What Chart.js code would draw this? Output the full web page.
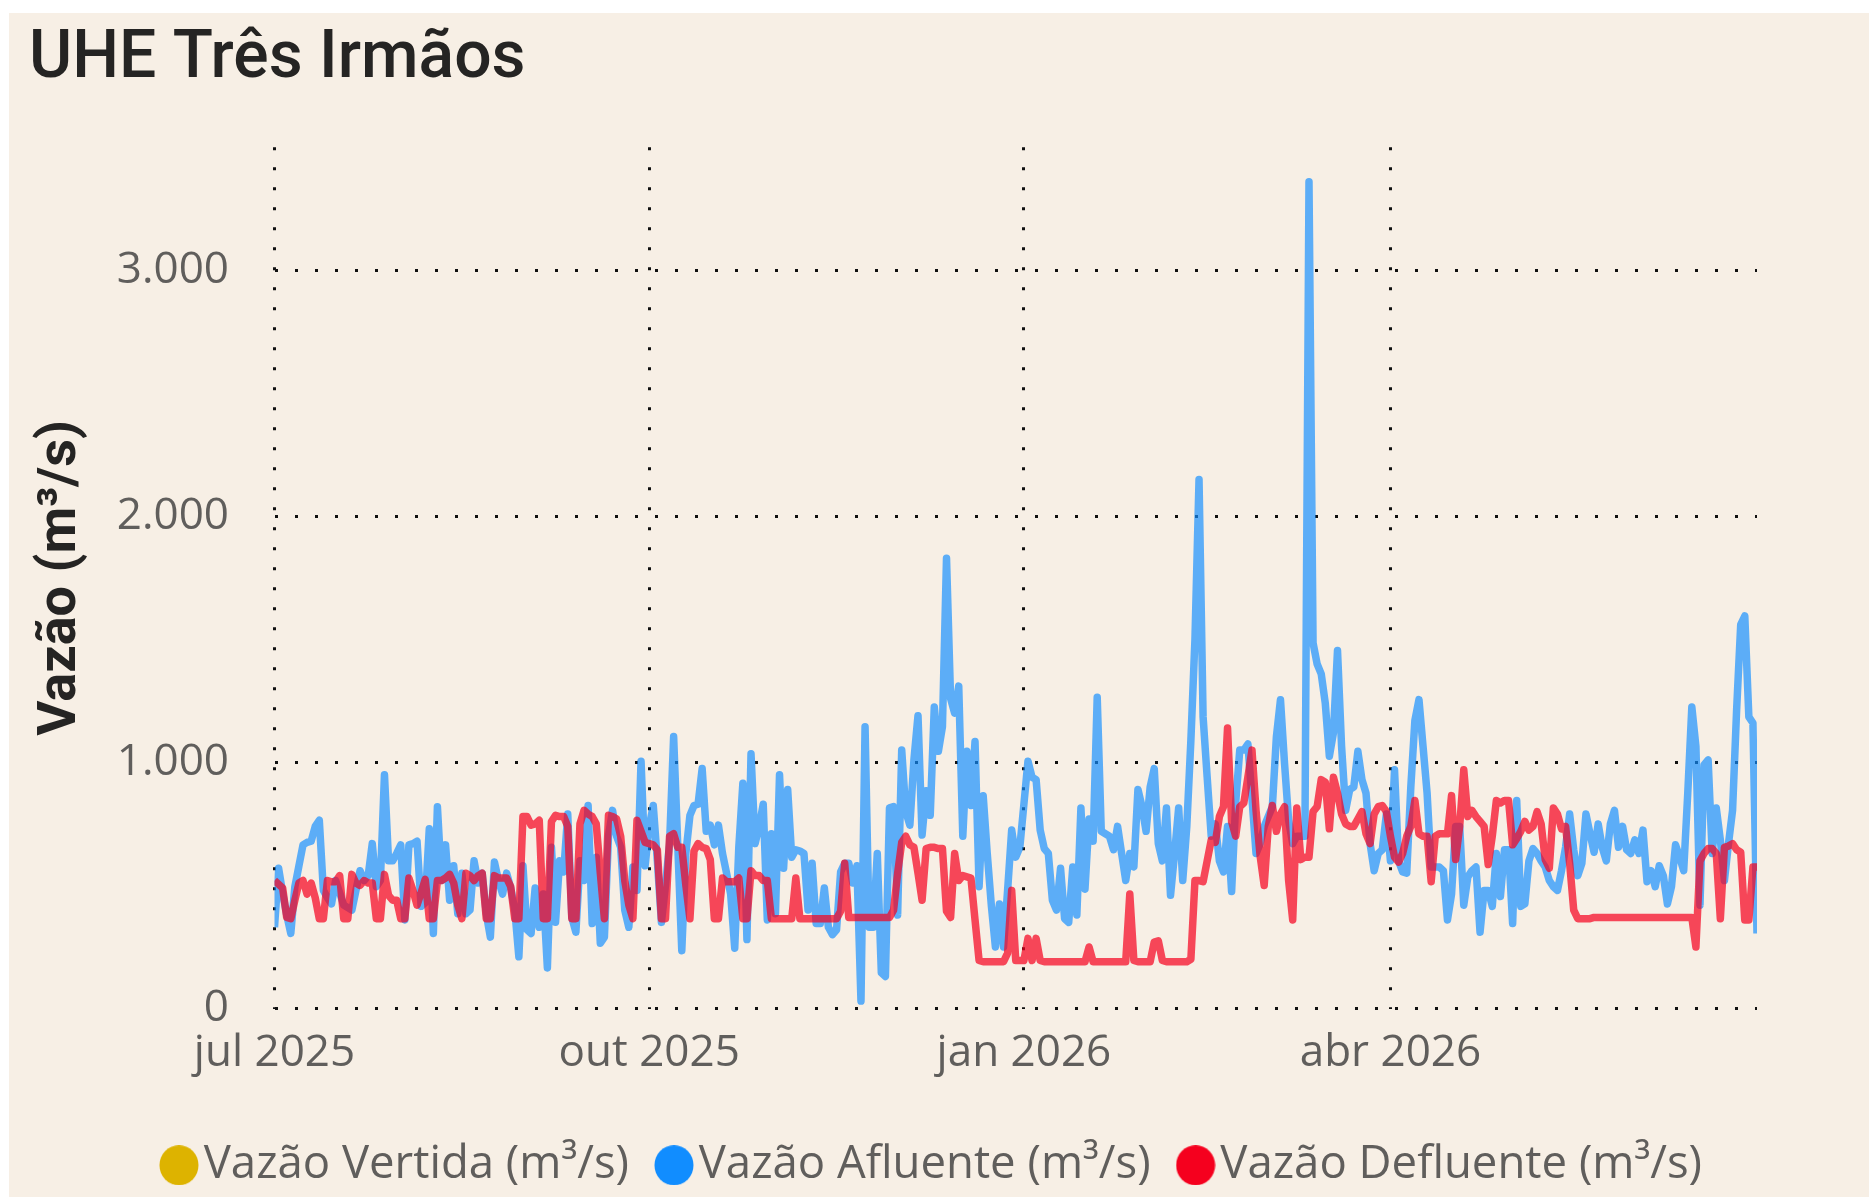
<!DOCTYPE html>
<html><head><meta charset="utf-8">
<script src="https://cdn.jsdelivr.net/npm/chart.js@4.4.1/dist/chart.umd.min.js"></script>
<style>
html,body{margin:0;padding:0;background:#ffffff;overflow:hidden;width:1869px;height:1197px}
#panel{position:absolute;left:9px;top:13px;width:1860px;height:1184px;background:#F7EFE5;overflow:hidden}
canvas{display:block}
</style></head><body>
<div id="panel"><canvas id="c" width="1860" height="1185"></canvas></div>
<script>
// ---- data (daily, 01/07/2025 .. 30/06/2026) ----
const tickDays = [0, 92, 184, 274];
const tickLabels = ['jul 2025', 'out 2025', 'jan 2026', 'abr 2026'];
const yTicks = [0, 1000, 2000, 3000];
const yTickLabels = ['0', '1.000', '2.000', '3.000'];
const seriesNames = ['Vazão Vertida (m³/s)', 'Vazão Afluente (m³/s)', 'Vazão Defluente (m³/s)'];

const vertida = [];

const afluente = [
330,570,470,380,305,495,580,665,675,680,
740,765,480,450,425,520,470,420,410,400,
480,560,520,540,670,495,520,950,600,600,
630,665,360,665,670,680,415,430,730,305,
820,520,665,440,580,385,550,385,400,600,
510,550,385,290,595,520,465,550,490,400,
210,580,320,305,490,330,465,165,655,350,
600,555,790,370,310,600,520,825,345,615,
265,290,700,805,700,655,400,330,575,480,
1005,580,740,825,600,350,500,670,1105,670,
235,630,785,825,830,975,720,745,665,745,
630,550,465,245,655,915,280,1035,670,740,
830,360,710,385,950,570,890,615,645,640,
630,400,590,345,345,490,330,300,320,555,
590,590,510,580,30,1145,330,330,630,145,
130,815,820,380,1050,800,745,1010,1190,705,
885,785,1225,1045,1145,1830,1260,1200,1310,700,
1045,825,1085,495,865,630,420,250,425,250,
480,725,615,655,830,1005,940,930,725,650,
630,440,400,570,365,350,575,380,815,485,
770,680,1265,720,710,700,645,740,630,520,
630,575,890,820,720,900,975,670,600,815,
460,630,815,520,740,1090,1500,2150,1185,940,
700,750,600,555,740,475,835,1050,1050,1075,
855,630,670,740,780,820,1105,1255,995,765,
670,700,700,700,3360,1485,1400,1360,1240,1025,
1120,1455,1065,805,890,900,1045,930,875,670,
560,630,645,790,600,970,600,555,550,900,
1170,1255,1065,875,575,575,575,560,360,465,
740,740,420,535,560,575,310,480,480,415,
630,455,645,645,345,845,415,425,600,650,
630,600,575,520,495,480,560,655,790,645,
540,590,790,710,635,750,655,600,750,805,
655,740,645,630,685,630,725,515,560,495,
580,540,425,495,665,615,560,875,1225,1065,
420,990,1010,630,815,685,520,670,805,1215,
1560,1595,1185,1160,305
];

const defluente = [
520,505,490,370,365,440,510,520,465,510,
450,365,365,520,515,515,540,365,365,545,
510,500,520,510,510,365,365,545,460,440,
440,365,365,530,480,420,470,525,365,365,
520,520,530,545,510,420,365,550,540,520,
540,550,365,365,540,530,530,530,495,365,
365,780,780,745,750,765,365,365,760,785,
780,780,740,365,365,750,805,790,780,750,
550,365,785,780,770,700,520,420,365,765,
720,675,670,665,645,365,365,700,710,655,
655,500,365,640,670,655,650,605,365,365,
530,515,515,515,530,365,365,560,540,540,
520,520,365,365,365,365,365,365,530,365,
365,365,365,365,365,365,365,365,365,395,
590,370,370,370,370,370,370,370,370,370,
370,370,400,550,675,700,665,655,550,440,
650,655,655,650,650,395,370,630,520,540,
535,530,360,195,190,190,190,190,190,190,
225,480,195,195,195,285,195,285,195,190,
190,190,190,190,190,190,190,190,190,190,
250,190,190,190,190,190,190,190,190,190,
465,195,190,190,190,190,270,275,195,190,
190,190,190,190,190,200,520,520,515,600,
685,675,780,820,1140,760,700,820,835,940,
1050,805,620,500,740,825,720,790,820,520,
360,815,605,615,615,800,820,930,920,730,
940,875,790,750,740,740,770,800,710,670,
790,820,825,800,700,615,595,630,700,740,
845,710,700,700,515,700,710,710,710,865,
605,740,970,780,805,780,760,740,585,700,
845,835,845,845,665,690,720,760,725,740,
800,750,605,570,815,790,730,740,590,400,
365,365,365,365,370,370,370,370,370,370,
370,370,370,370,370,370,370,370,370,370,
370,370,370,370,370,370,370,370,370,250,
600,630,650,650,630,365,655,660,670,645,
635,360,360,575,575
];

// ---- styles ----
const legendColors = ['#DDB300', '#118DFF', '#F5001E'];
const lineColors = ['rgba(221,179,0,0.7)', 'rgba(17,141,255,0.68)', 'rgba(245,0,30,0.71)'];
const tickColor = '#605E5C';
const titleColor = '#252423';

const toPoints = arr => arr.map((v, i) => ({x: i, y: v}));

function dot(color) {
  const c = document.createElement('canvas');
  c.width = 40; c.height = 40;
  const g = c.getContext('2d');
  g.fillStyle = color;
  g.beginPath(); g.ellipse(20, 20, 19.5, 20, 0, 0, Math.PI * 2); g.fill();
  return c;
}
const dots = legendColors.map(dot);

const fmtX = v => { const k = tickDays.indexOf(v); return k >= 0 ? tickLabels[k] : ''; };
const fmtY = v => { const k = yTicks.indexOf(v); return k >= 0 ? yTickLabels[k] : ''; };

const ds = (k, arr, order) => ({
  label: seriesNames[k], data: toPoints(arr), borderColor: lineColors[k],
  backgroundColor: lineColors[k], borderWidth: 7.5, pointRadius: 0, tension: 0,
  borderJoinStyle: 'round', borderCapStyle: 'butt', fill: false, order: order
});

new Chart(document.getElementById('c'), {
  type: 'line',
  data: { datasets: [ ds(0, vertida, 3), ds(1, afluente, 2), ds(2, defluente, 1) ] },
  options: {
    responsive: false, animation: false, devicePixelRatio: 1,
    layout: { padding: { left: 20, right: 19, top: 0, bottom: 0 } },
    plugins: {
      tooltip: { enabled: false },
      title: {
        display: true, text: 'UHE Três Irmãos', align: 'start', color: titleColor,
        font: { family: 'Roboto', size: 66, weight: '500', lineHeight: 1.2 },
        padding: { top: 8, bottom: 47 }
      },
      legend: {
        display: true, position: 'bottom', align: 'center',
        labels: {
          usePointStyle: true, boxWidth: 4, boxHeight: 4, padding: 43,
          color: tickColor, font: { family: 'Open Sans', size: 45.5 },
          generateLabels: chart => chart.data.datasets.map((d, i) => ({
            text: d.label, fillStyle: legendColors[i], strokeStyle: legendColors[i],
            lineWidth: 0, pointStyle: dots[i], hidden: false, datasetIndex: i, fontColor: tickColor
          }))
        }
      }
    },
    scales: {
      x: {
        type: 'linear', min: 0, max: afluente.length - 1,
        afterBuildTicks: s => { s.ticks = tickDays.map(v => ({value: v})); },
        afterFit: s => { s.height = 91; },
        ticks: { callback: fmtX, color: tickColor, padding: 19, maxRotation: 0,
                 autoSkip: false, font: { family: 'Open Sans', size: 44 } },
        grid: { color: '#111', lineWidth: 3, drawTicks: false },
        border: { display: false, dash: [3, 17] }
      },
      y: {
        type: 'linear', min: 0, max: 3500, position: 'left',
        afterBuildTicks: s => { s.ticks = yTicks.map(v => ({value: v})); },
        afterFit: s => { s.width = 245.5; },
        ticks: { callback: fmtY, color: tickColor, padding: 45.5,
                 font: { family: 'Open Sans', size: 44 } },
        grid: { color: '#111', lineWidth: 3, drawTicks: false },
        border: { display: false, dash: [3, 17] },
        title: { display: true, text: 'Vazão (m³/s)', color: titleColor,
                 font: { family: 'Roboto', size: 54, weight: 'bold', lineHeight: 1.2 },
                 padding: { top: 0, bottom: 0 } }
      },
      y2: {
        type: 'linear', position: 'right', display: true,
        afterFit: s => { s.width = 93; },
        ticks: { display: false }, grid: { display: false, drawTicks: false },
        border: { display: false }
      }
    }
  }
});
</script>
</body></html>
